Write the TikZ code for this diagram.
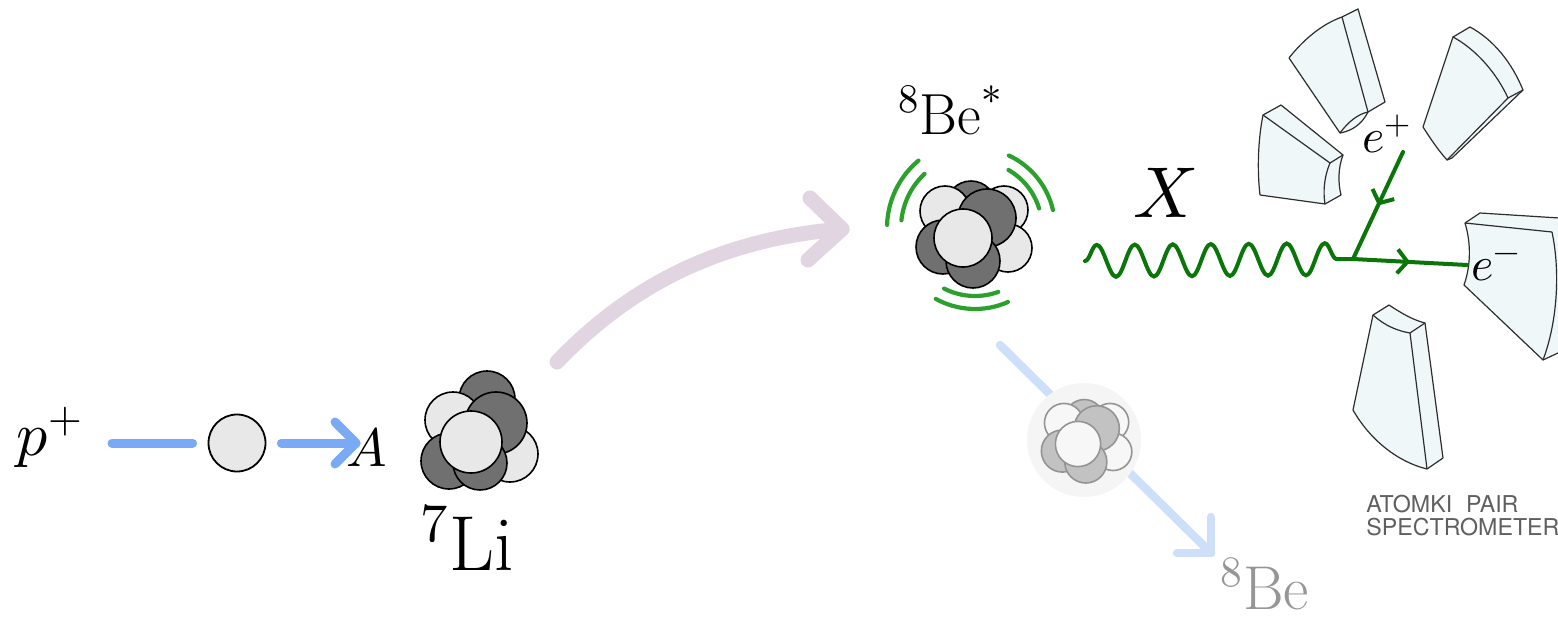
\documentclass[tikz,border=0pt]{standalone}
\usepackage{unicode-math}
\setmathfont{Latin Modern Math}
\setsansfont{TeX Gyre Heros}
\usetikzlibrary{decorations.pathmorphing,decorations.markings,arrows.meta,calc}
\definecolor{beamblue}{RGB}{122,170,245}
\definecolor{fadeblue}{RGB}{206,223,250}
\definecolor{mauve}{RGB}{226,213,226}
\definecolor{glow}{RGB}{44,160,44}
\definecolor{fgreen}{RGB}{10,118,10}
\definecolor{nlight}{RGB}{232,232,232}
\definecolor{ndark}{RGB}{112,112,112}
\definecolor{detfill}{RGB}{240,247,248}
\definecolor{detline}{RGB}{45,45,45}
\definecolor{fadegray}{RGB}{150,150,150}
\definecolor{spectext}{RGB}{95,95,95}
\tikzset{
  lab/.style={inner sep=0pt, font=\fontsize{29}{34}\selectfont},
  pslab/.style={inner sep=0pt, font=\fontsize{31}{36}\selectfont},
  lilab/.style={inner sep=0pt, font=\fontsize{39}{44}\selectfont},
  xlab/.style={inner sep=0pt, font=\fontsize{36}{40}\selectfont},
  belab/.style={inner sep=0pt, font=\fontsize{31}{36}\selectfont},
  alab/.style={inner sep=0pt, font=\fontsize{27}{32}\selectfont},
  elab/.style={inner sep=0pt, font=\fontsize{24}{28}\selectfont},
  spec/.style={inner sep=0pt, text=spectext, font=\sffamily\fontsize{11.6}{14}\selectfont},
  beam/.style={line width=4.5pt, draw=beamblue, line cap=round, line join=round},
  fadebeam/.style={line width=4.2pt, draw=fadeblue, line cap=round, line join=round},
  pinkarrow/.style={line width=7.5pt, draw=mauve, line cap=round, line join=round},
  glowarc/.style={line width=2.1pt, draw=glow, line cap=round},
  fermion/.style={line width=2pt, draw=fgreen, line cap=round, postaction={decorate},
    decoration={markings, mark=at position 0.5 with {\arrow{Straight Barb[length=5pt,width=12pt]}}}},
  wave/.style={line width=2pt, draw=fgreen, line cap=round, decorate,
    decoration={snake, amplitude=8pt, segment length=19pt}},
  nl/.style={fill=nlight, draw=black, line width=0.8pt},
  nd/.style={fill=ndark, draw=black, line width=0.8pt},
  det/.style={fill=detfill, draw=detline, line width=0.6pt, line join=round},
  detl/.style={draw=detline, line width=0.6pt, line join=round},
  ballstyle/.style={circle, draw=black, fill=nlight, line width=0.9pt, minimum size=28.5pt, inner sep=0pt},
  beclust/.pic={
    \path[nd] (8,-32) circle[radius=25];
    \path[nl] (-18,-27) circle[radius=25];
    \path[nl] (41,-28) circle[radius=24];
    \path[nl] (45,10) circle[radius=24];
    \path[nd] (24,-20) circle[radius=29];
    \path[nd] (-20,9) circle[radius=27];
    \path[nd] (10,23) circle[radius=27];
    \path[nl] (0,0) circle[radius=29];
  },
  liclust/.pic={
    \path[nd] (16,-43) circle[radius=28];
    \path[nl] (-18,-22) circle[radius=28];
    \path[nl] (39,12) circle[radius=28];
    \path[nd] (25,-19) circle[radius=31];
    \path[nd] (-22,19) circle[radius=28];
    \path[nd] (9,21) circle[radius=27];
    \path[nl] (0,0) circle[radius=31];
  }
}
\begin{document}
\begin{tikzpicture}[x=0.5pt,y=-0.5pt]
\useasboundingbox (0,0) rectangle (1558,621);

% ---------- incoming proton ----------
\node[pslab, anchor=base west] (pplus) at (16,455) {$p^{+}$};
\node[ballstyle] (ball) at (237,443) {};
\node[alab, anchor=base west] (Alab) at (346,466) {$A$};
\coordinate (b0) at (112,443);
\coordinate (tipA) at (356,443);
\draw[beam, shorten >=7.5pt] (b0) -- (ball);
\draw[beam, shorten <=7.5pt] (ball) -- (tipA);
\draw[beam] ($(tipA)+(-21,-21)$) -- (tipA) -- ($(tipA)+(-21,21)$);

% ---------- pink arrow ----------
\coordinate (pk0) at (557,362);
\coordinate (pk1) at (842,229);
\draw[pinkarrow] (pk0) .. controls (640,275) and (735,238) .. (pk1);
\draw[pinkarrow] ($(pk1)+(-32,-31)$) -- (pk1) -- ($(pk1)+(-34,31)$);

% ---------- 7Li ----------
\pic at (471,442) {liclust};
\node[lilab, anchor=base west] (Li) at (420,570) {${}^{7}\mathrm{Li}$};

% ---------- faded 8Be ----------
\coordinate (f0) at (1000,345);
\coordinate (f1) at (1211,553);
\draw[fadebeam] (f0) -- (f1);
\draw[fadebeam] ($(f1)+(0,-36)$) -- (f1) -- ($(f1)+(-34,0)$);
\fill[black!4] (1084,440) circle[radius=57];
\begin{scope}[nl/.style={fill=white!97!black, draw=black!42, line width=0.8pt},
              nd/.style={fill=black!24, draw=black!42, line width=0.8pt}]
\pic[scale=0.78] at (1078,444) {beclust};
\end{scope}
\node[belab, anchor=base west, text=fadegray] (Be) at (1220,609) {${}^{8}\mathrm{Be}$};

% ---------- 8Be* ----------
\node[lab, anchor=base west] (Bestar) at (898,134) {${}^{8}\mathrm{Be}^{*}$};
\coordinate (bec) at (975,228);
\draw[glowarc] ([shift={(182:88)}]bec) arc[start angle=182, end angle=230, radius=88];
\draw[glowarc] ([shift={(186:74)}]bec) arc[start angle=186, end angle=227, radius=74];
\draw[glowarc] ([shift={(-65:80)}]bec) arc[start angle=-65, end angle=-13, radius=80];
\draw[glowarc] ([shift={(-60:67)}]bec) arc[start angle=-60, end angle=-17, radius=67];
\draw[glowarc] ([shift={(66:81)}]bec) arc[start angle=66, end angle=119, radius=81];
\draw[glowarc] ([shift={(70:68)}]bec) arc[start angle=70, end angle=117, radius=68];
\pic at (963,238) {beclust};

% ---------- detectors ----------
% detector 1
\path[det] (1289,58) .. controls (1303,40) and (1322,24) .. (1342,17) -- (1358,9) -- (1385,102) -- (1368,112)
  .. controls (1362,124) and (1352,131) .. (1340,133) -- cycle;
\draw[detl] (1342,17) -- (1368,112);
\draw[detl] (1340,133) .. controls (1348,122) and (1358,114) .. (1368,112);
% detector 2
\path[det] (1423,127) -- (1453,37) -- (1470,27) .. controls (1494,40) and (1512,63) .. (1523,90) -- (1452,158) -- (1447,160)
  .. controls (1438,150) and (1430,138) .. (1423,127) -- cycle;
\draw[detl] (1453,37) .. controls (1477,50) and (1497,74) .. (1508,98) -- (1523,90);
\draw[detl] (1508,98) -- (1447,160);
% detector 3
\path[det] (1263,115) -- (1281,105) -- (1343,155) .. controls (1338,168) and (1338,183) .. (1341,195) -- (1325,204) -- (1260,195)
  .. controls (1257,170) and (1258,140) .. (1263,115) -- cycle;
\draw[detl] (1263,115) -- (1330,163) -- (1343,155);
\draw[detl] (1330,163) .. controls (1324,177) and (1323,192) .. (1325,204);
% detector 4
\path[det] (1465,223) -- (1480,213) -- (1575,219) -- (1575,345) -- (1543,360) -- (1464,285)
  .. controls (1471,265) and (1471,243) .. (1465,223) -- cycle;
\draw[detl] (1465,223) -- (1552,232);
\draw[detl] (1552,232) .. controls (1560,270) and (1558,320) .. (1543,360);
% detector 5
\path[det] (1373,315) -- (1389,305) .. controls (1401,313) and (1413,320) .. (1425,323) -- (1443,458) -- (1427,469)
  .. controls (1398,462) and (1370,440) .. (1353,410) -- cycle;
\draw[detl] (1373,315) .. controls (1385,326) and (1398,331) .. (1410,333) -- (1425,323);
\draw[detl] (1410,333) -- (1427,469);

\node[spec, anchor=base west] (atomki) at (1366,512) {ATOMKI\hspace{0.6em}PAIR};
\node[spec, anchor=base west] (spectro) at (1366,535) {SPECTROMETER};

% ---------- X boson and pair ----------
\node[xlab, anchor=base] (X) at (1165,217) {$X$};
\coordinate (w0) at (1085,261);
\coordinate (vtx) at (1353,259);
\coordinate (epend) at (1403,152);
\coordinate (emend) at (1467,265);
\draw[wave] (w0) -- (vtx);
\draw[fermion] (epend) -- (vtx);
\draw[fermion] (vtx) -- (emend);
\node[elab, anchor=base west] (ep) at (1362,152) {$e^{+}$};
\node[elab, anchor=base west] (em) at (1471,280) {$e^{-}$};
\end{tikzpicture}
\end{document}
